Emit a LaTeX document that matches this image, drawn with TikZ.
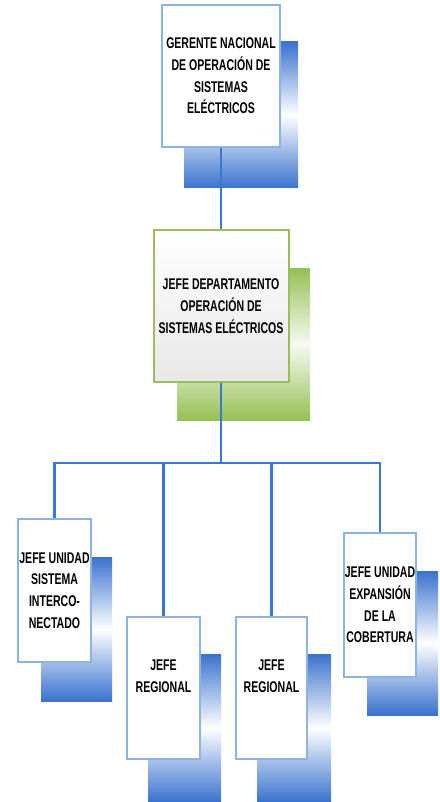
\documentclass[tikz,border=0pt]{standalone}
\usepackage{fontspec}
\setmainfont{Liberation Sans}[FakeStretch=0.68]
\definecolor{shblue}{RGB}{58,114,206}
\definecolor{shgreen}{RGB}{150,192,84}
\definecolor{bdblue}{RGB}{141,179,226}
\definecolor{bdgreen}{RGB}{155,190,90}
\definecolor{lnblue}{RGB}{58,118,212}
\tikzset{
  bshadow/.style={top color=shblue, bottom color=shblue, middle color=white},
  gshadow/.style={top color=shgreen, bottom color=shgreen, middle color=white!92!shgreen},
  bbox/.style={draw=bdblue, line width=2pt, fill=white, align=center, inner sep=1pt,
    font=\bfseries\fontsize{15.5}{21.7}\selectfont},
  gbox/.style={draw=bdgreen, line width=2pt, top color=white, bottom color=black!9, align=center,
    inner sep=1pt, font=\bfseries\fontsize{15.5}{21.7}\selectfont},
  txt/.style={align=center, inner sep=0pt, font=\bfseries\fontsize{15.5}{21.7}\selectfont},
  conn/.style={draw=lnblue, line width=2.2pt}
}
\begin{document}
\begin{tikzpicture}[x=1pt,y=-1pt]
\useasboundingbox (0,0) rectangle (439,802);
% shadows
\shade[bshadow] (184,42) rectangle (298,188);
\shade[gshadow] (177,268) rectangle (310,420);
\shade[bshadow] (41,557) rectangle (112,701);
\shade[bshadow] (148,654) rectangle (221,802);
\shade[bshadow] (257,654) rectangle (331,802);
\shade[bshadow] (367,571) rectangle (438,715);
\coordinate (hb) at (221,463);
% boxes
\node[bbox, minimum width=118, minimum height=142] (g) at (221,76)
  {GERENTE NACIONAL\\DE OPERACIÓN DE\\SISTEMAS\\ELÉCTRICOS};
\node[gbox, minimum width=135, minimum height=152] (d) at (221,306)
  {JEFE DEPARTAMENTO\\OPERACIÓN DE\\SISTEMAS ELÉCTRICOS};
\node[bbox, minimum width=73, minimum height=143] (b1) at (54.5,590.5)
  {JEFE UNIDAD\\SISTEMA\\INTERCO-\\NECTADO};
\node[bbox, minimum width=73, minimum height=142] (b2) at (163.5,688) {};
\node[txt] (t2) at (163.5,676) {JEFE\\REGIONAL};
\node[bbox, minimum width=71, minimum height=142] (b3) at (271.5,688) {};
\node[txt] (t3) at (271.5,676) {JEFE\\REGIONAL};
\node[bbox, minimum width=72, minimum height=144] (b4) at (380,605)
  {JEFE UNIDAD\\EXPANSIÓN\\DE LA\\COBERTURA};
% connectors
\draw[conn] (g.south) -- (d.north);
\draw[conn] (d.south) -- (hb);
\draw[conn] (b1.north) |- (hb) -| (b4.north);
\draw[conn] (b2.north) -- (b2.north |- hb);
\draw[conn] (b3.north) -- (b3.north |- hb);
\end{tikzpicture}
\end{document}
